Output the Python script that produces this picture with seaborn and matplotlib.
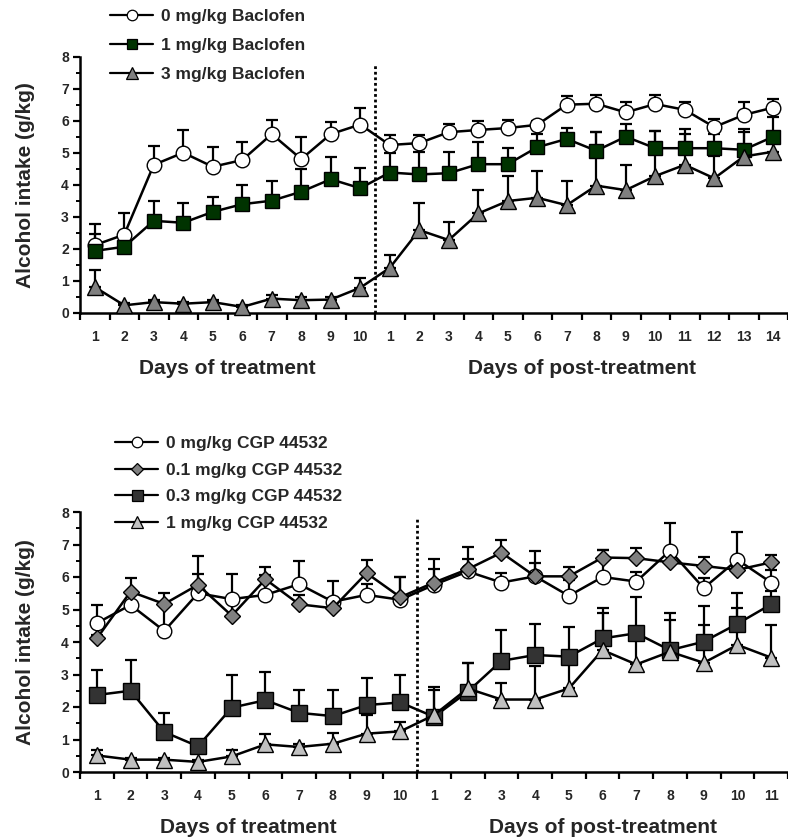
import matplotlib

matplotlib.use("Agg")

import matplotlib.pyplot as plt
import numpy as np
import seaborn as sns
from matplotlib.lines import Line2D

# --- values ---
top_tick_labels = [str(d) for d in range(1, 11)] + [str(d) for d in range(1, 15)]
bottom_tick_labels = [str(d) for d in range(1, 11)] + [str(d) for d in range(1, 12)]

bac0_mean = [2.12, 2.45, 4.63, 5.01, 4.57, 4.78, 5.59, 4.81, 5.59, 5.89,
             5.25, 5.31, 5.65, 5.72, 5.78, 5.88, 6.51, 6.54, 6.27, 6.53, 6.35, 5.81, 6.19, 6.42]
bac0_sem = [0.66, 0.66, 0.59, 0.71, 0.63, 0.55, 0.45, 0.68, 0.37, 0.51,
            0.32, 0.26, 0.25, 0.28, 0.26, 0.12, 0.28, 0.28, 0.31, 0.29, 0.23, 0.26, 0.39, 0.26]
bac1_mean = [1.94, 2.07, 2.88, 2.82, 3.16, 3.40, 3.51, 3.79, 4.18, 3.90,
             4.39, 4.33, 4.37, 4.65, 4.65, 5.18, 5.44, 5.07, 5.51, 5.15, 5.15, 5.15, 5.10, 5.51]
bac1_sem = [0.52, 0.43, 0.63, 0.61, 0.47, 0.61, 0.63, 0.71, 0.69, 0.62,
            0.61, 0.69, 0.67, 0.69, 0.52, 0.42, 0.34, 0.58, 0.39, 0.55, 0.59, 0.45, 0.64, 0.63]
bac3_mean = [0.81, 0.24, 0.34, 0.29, 0.34, 0.19, 0.45, 0.40, 0.42, 0.79,
             1.41, 2.59, 2.28, 3.11, 3.50, 3.60, 3.37, 3.98, 3.84, 4.28, 4.63, 4.21, 4.89, 5.04]
bac3_sem = [0.53, 0.06, 0.06, 0.06, 0.06, 0.06, 0.10, 0.10, 0.08, 0.31,
            0.40, 0.84, 0.57, 0.73, 0.79, 0.85, 0.77, 1.67, 0.77, 1.42, 0.97, 0.69, 0.78, 0.36]

cgp0_mean = [4.58, 5.14, 4.34, 5.50, 5.32, 5.45, 5.78, 5.24, 5.45, 5.30,
             5.76, 6.17, 5.83, 6.02, 5.42, 6.00, 5.86, 6.81, 5.66, 6.53, 5.83]
cgp0_sem = [0.56, 0.36, 0.90, 0.59, 0.77, 0.62, 0.70, 0.64, 0.35, 0.70,
            0.50, 0.38, 0.30, 0.41, 0.50, 0.84, 0.30, 0.85, 0.30, 0.84, 0.40]
cgp01_mean = [4.11, 5.55, 5.17, 5.76, 4.81, 5.93, 5.16, 5.04, 6.12, 5.38,
              5.83, 6.24, 6.75, 6.02, 6.02, 6.60, 6.58, 6.45, 6.34, 6.22, 6.45]
cgp01_sem = [0.10, 0.41, 0.33, 0.89, 0.40, 0.38, 0.30, 0.30, 0.39, 0.62,
             0.72, 0.68, 0.40, 0.77, 0.28, 0.24, 0.31, 0.25, 0.29, 0.10, 0.23]
cgp03_mean = [2.37, 2.50, 1.23, 0.79, 1.98, 2.21, 1.82, 1.72, 2.06, 2.14,
              1.70, 2.47, 3.42, 3.60, 3.55, 4.11, 4.27, 3.75, 4.01, 4.56, 5.16]
cgp03_sem = [0.77, 0.94, 0.60, 0.12, 1.00, 0.87, 0.70, 0.80, 0.82, 0.84,
             0.92, 0.89, 0.95, 0.95, 0.90, 0.93, 1.11, 1.15, 1.11, 0.94, 0.40]
cgp1_mean = [0.51, 0.38, 0.38, 0.31, 0.48, 0.85, 0.77, 0.87, 1.18, 1.25,
             1.75, 2.57, 2.23, 2.23, 2.57, 3.75, 3.31, 3.70, 3.36, 3.91, 3.52]
cgp1_sem = [0.16, 0.05, 0.05, 0.05, 0.19, 0.33, 0.10, 0.34, 0.57, 0.30,
            0.77, 0.79, 0.50, 1.03, 0.90, 1.15, 0.90, 0.98, 1.16, 1.13, 1.00]

TOP_SERIES = [
    ("0 mg/kg Baclofen", bac0_mean, bac0_sem, "o", "white", 10.5),
    ("1 mg/kg Baclofen", bac1_mean, bac1_sem, "s", "#003300", 10.5),
    ("3 mg/kg Baclofen", bac3_mean, bac3_sem, "^", "#808080", 11.5),
]
BOTTOM_SERIES = [
    ("0 mg/kg CGP 44532", cgp0_mean, cgp0_sem, "o", "white", 10.5),
    ("0.1 mg/kg CGP 44532", cgp01_mean, cgp01_sem, "D", "#808080", 8.5),
    ("0.3 mg/kg CGP 44532", cgp03_mean, cgp03_sem, "s", "#333333", 11),
    ("1 mg/kg CGP 44532", cgp1_mean, cgp1_sem, "^", "#c0c0c0", 11.5),
]

sns.set_theme(style="ticks")
plt.rcParams["font.family"] = ["Liberation Sans", "DejaVu Sans"]
plt.rcParams["font.weight"] = "bold"
NARROW = ["Liberation Sans Narrow", "Liberation Sans", "DejaVu Sans"]


def draw_panel(ax, series, tick_labels, right_pad, n_treat=10):
    n = len(tick_labels)
    pos = np.arange(n)
    for i, (label, mean, sem, marker, face, ms) in enumerate(series):
        ax.errorbar(pos, mean, yerr=[np.zeros(n), sem], fmt="none", ecolor="black",
                    elinewidth=1.6, capsize=4.5, capthick=1.6, zorder=2 + i, clip_on=False)
        sns.lineplot(x=pos, y=mean, ax=ax, color="black", lw=1.8, marker=marker,
                     markersize=ms, markerfacecolor=face, markeredgecolor="black",
                     markeredgewidth=1.0, errorbar=None, zorder=5 + i, clip_on=False)
    ax.plot([n_treat - 0.5, n_treat - 0.5], [0, 7.82], color="black", lw=2,
            ls=(0, (1, 1)), zorder=1)
    ax.set_xlim(-0.5, n - 1 + right_pad)
    ax.set_ylim(0, 8)
    sns.despine(ax=ax)
    for side in ("left", "bottom"):
        ax.spines[side].set_linewidth(1.8)
        ax.spines[side].set_color("black")
    ax.set_xticks(pos)
    ax.set_xticklabels(tick_labels, fontfamily=NARROW, fontsize=10, fontweight="bold")
    ax.set_xticks(np.arange(-0.5, n, 1.0), minor=True)
    ax.tick_params(axis="x", which="major", length=0, pad=12)
    ax.tick_params(axis="x", which="minor", length=5, width=1.6, direction="out", color="black")
    ax.set_yticks(range(0, 9))
    ax.set_yticklabels([str(v) for v in range(0, 9)], fontfamily=NARROW, fontsize=10,
                       fontweight="bold")
    ax.set_yticks(np.arange(0.5, 8, 1.0), minor=True)
    ax.tick_params(axis="y", which="major", length=5, width=1.6, color="black", pad=3)
    ax.tick_params(axis="y", which="minor", length=3, width=1.4, color="black")
    ax.set_ylabel("Alcohol intake (g/kg)", fontsize=15, fontweight="bold")
    ax.yaxis.set_label_coords(-0.064, 0.5)
    tr = ax.get_xaxis_transform()
    ax.text((n_treat - 1) / 2, -0.215, "Days of treatment", transform=tr, ha="center",
            va="center", fontsize=15, fontweight="bold", fontfamily=NARROW)
    ax.text((n_treat + n - 1) / 2, -0.215, "Days of post-treatment", transform=tr,
            ha="center", va="center", fontsize=15, fontweight="bold", fontfamily=NARROW)
    ax.grid(False)


def add_legend(fig, series, anchor, spacing):
    handles = [
        Line2D([0], [0], color="black", lw=1.6, marker=marker, markersize=ms * 0.72,
               markerfacecolor=face, markeredgecolor="black", markeredgewidth=0.9)
        for (_, _, _, marker, face, ms) in series
    ]
    labels = [s[0] for s in series]
    fig.legend(handles, labels, loc="upper left", bbox_to_anchor=anchor, frameon=False,
               borderpad=0, borderaxespad=0, handlelength=2.5, handletextpad=0.45,
               labelspacing=spacing, prop={"size": 12.5, "weight": "bold"})


fig = plt.figure(figsize=(7.88, 8.4), dpi=100)
ax_top = fig.add_axes([80 / 788, 1 - 313 / 840, 708 / 788, 256 / 840])
ax_bot = fig.add_axes([80 / 788, 1 - 772 / 840, 708 / 788, 260 / 840])

draw_panel(ax_top, TOP_SERIES, top_tick_labels, right_pad=0.2)
draw_panel(ax_bot, BOTTOM_SERIES, bottom_tick_labels, right_pad=0.38)

add_legend(fig, TOP_SERIES, (110 / 788, 1 - 9 / 840), 0.8)
add_legend(fig, BOTTOM_SERIES, (115 / 788, 1 - 436 / 840), 0.66)

fig.savefig("out.png", dpi=100)
